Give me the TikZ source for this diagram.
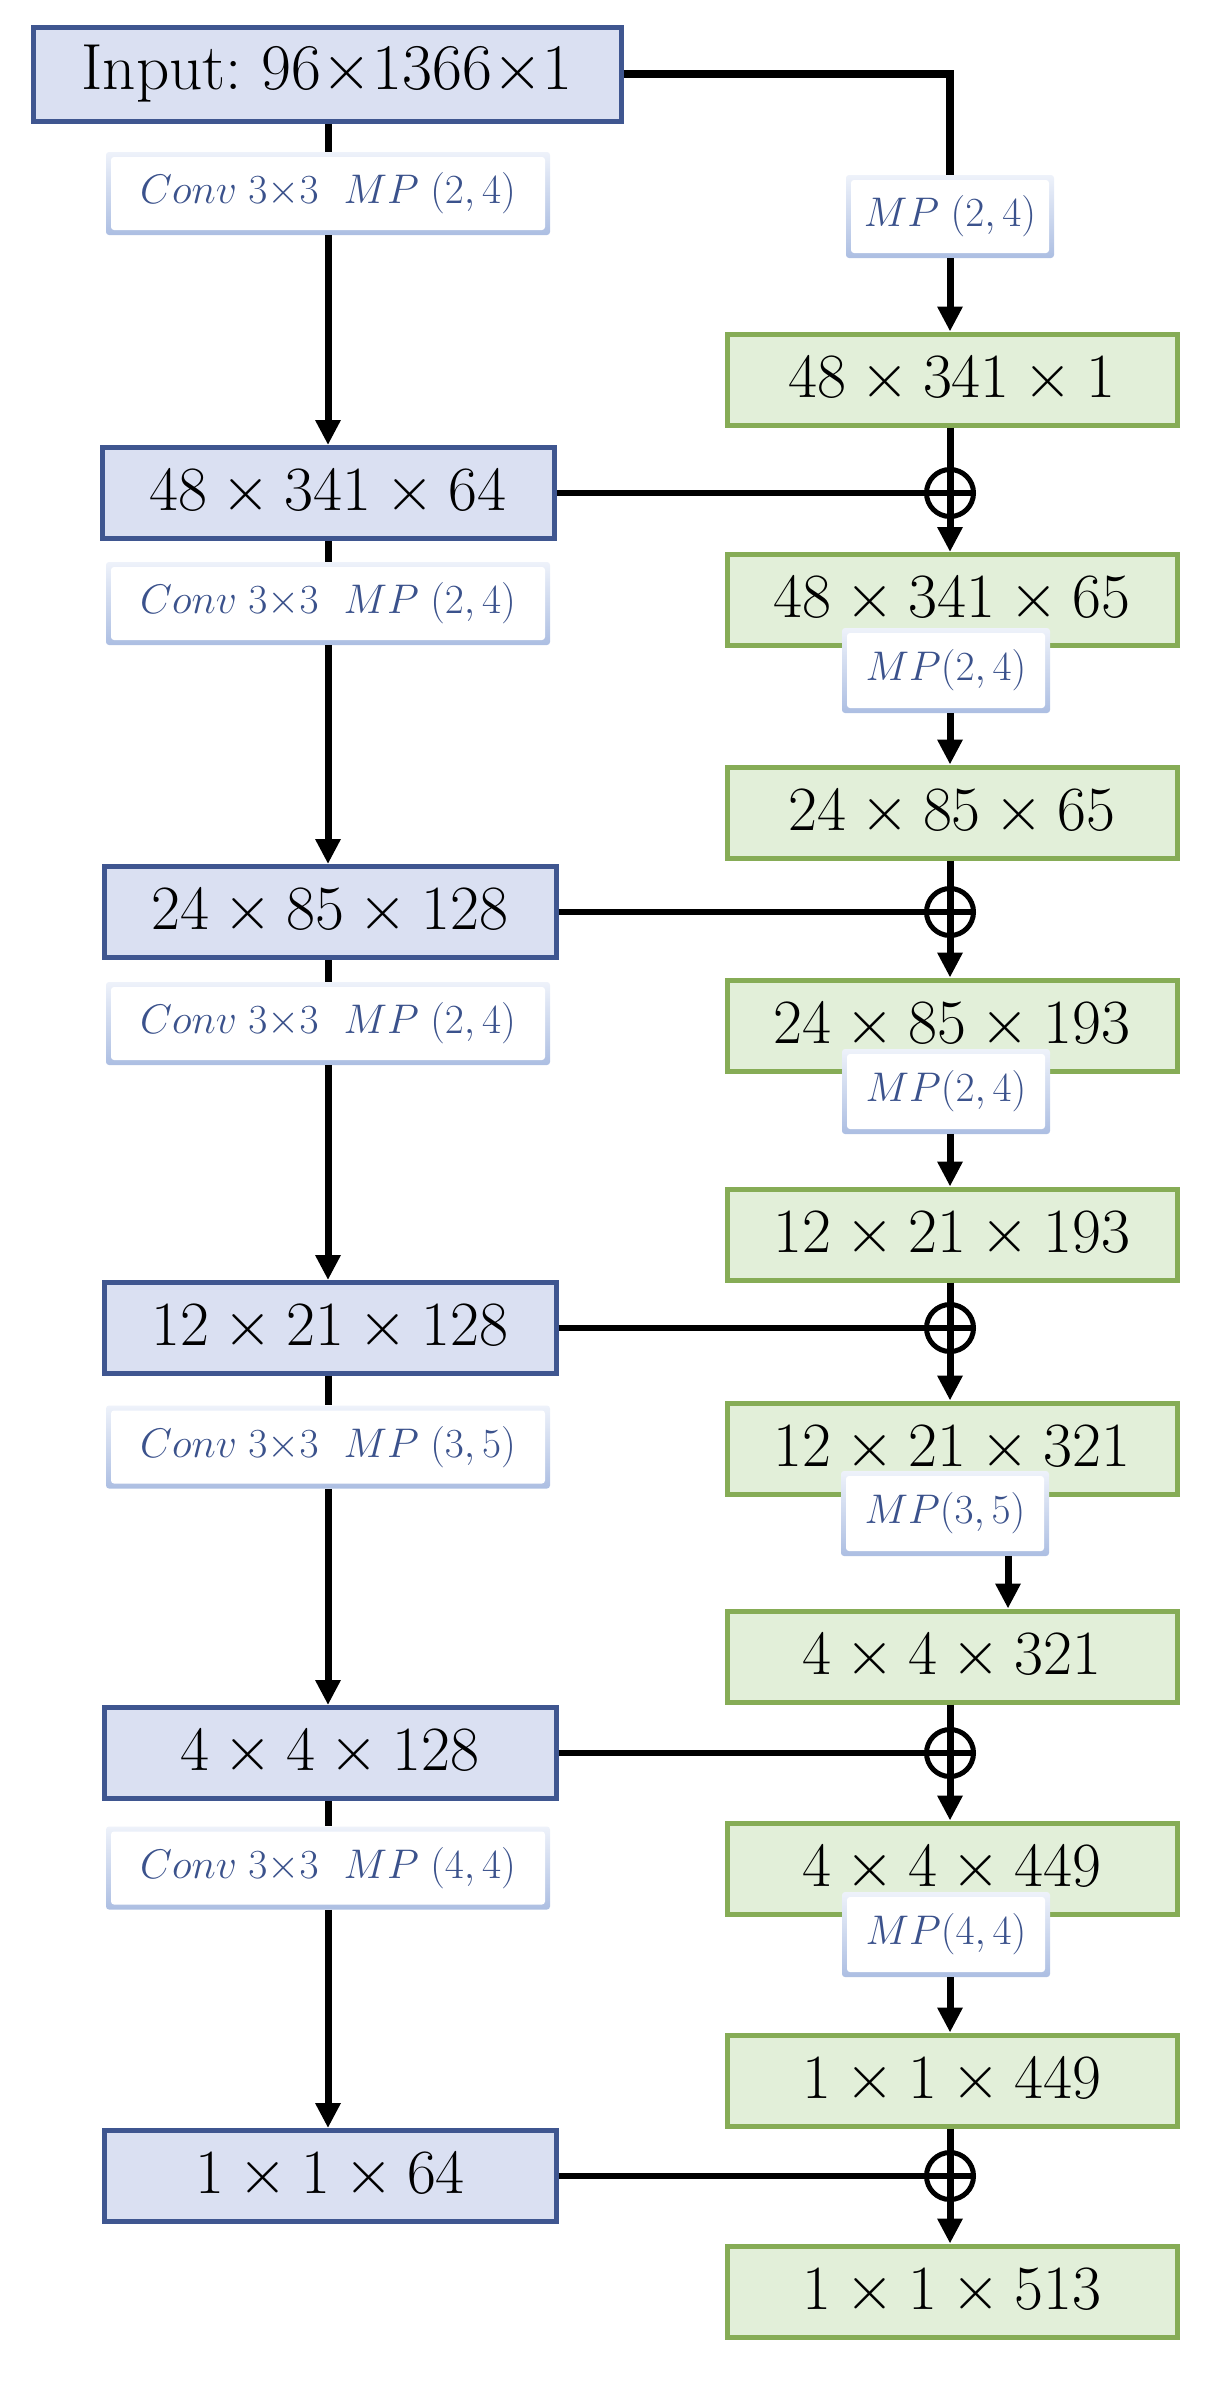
\RequirePackage{fix-cm}
\documentclass[tikz,border=0pt]{standalone}
\usetikzlibrary{arrows.meta,calc}

\definecolor{bluefill}{RGB}{218,224,242}
\definecolor{blueedge}{RGB}{63,86,144}
\definecolor{greenfill}{RGB}{226,239,217}
\definecolor{greenedge}{RGB}{134,172,86}
\definecolor{lbltext}{RGB}{59,82,140}
\definecolor{lbltop}{RGB}{238,242,250}
\definecolor{lblbot}{RGB}{172,190,226}

\tikzset{
  blk/.style={rectangle, line width=2.5pt, minimum height=45.5pt, inner sep=0pt,
    font=\fontsize{31.5}{37}\selectfont},
  bluebox/.style={blk, draw=blueedge, fill=bluefill, minimum width=226pt},
  greenbox/.style={blk, draw=greenedge, fill=greenfill, minimum width=225pt},
  lbl/.style={rectangle, rounded corners=1.5pt, inner sep=0pt,
    top color=lbltop, bottom color=lblbot, text=lbltext,
    font=\fontsize{20.7}{25}\selectfont, minimum height=41.5pt,
    path picture={\fill[white]
      ([xshift=2.5pt,yshift=2.5pt]path picture bounding box.south west) rectangle
      ([xshift=-2.5pt,yshift=-2.5pt]path picture bounding box.north east);}},
  convlbl/.style={lbl, minimum width=222pt},
  mplbl/.style={lbl, minimum width=104pt, minimum height=42.5pt},
  plus/.style={circle, draw, line width=2.5pt, minimum size=23.5pt, inner sep=0pt},
  link/.style={line width=3.5pt},
  skip/.style={line width=2.8pt},
  arr/.style={link, -{Triangle[length=12.5pt,width=12pt]}},
}
\newcommand\convtext[1]{$Conv\;3{\times}3\hspace{0.6em}MP\;(#1)$}

\begin{document}
\begin{tikzpicture}[x=0.5pt,y=-0.5pt]
  \path[use as bounding box] (0,0) rectangle (1215,2382);

  % left branch: convolution blocks
  \node[bluebox, minimum width=294pt, minimum height=47pt,
        font=\fontsize{32.6}{38}\selectfont] (inp) at (327,74)
    {Input:\ 96$\times$1366$\times$1};
  \node[convlbl] (c1) at (328,193.5) {\convtext{2,4}};
  \node[bluebox] (b1) at (328,493) {$48\times341\times64$};
  \node[convlbl] (c2) at (328,603.5) {\convtext{2,4}};
  \node[bluebox] (b2) at (330,912) {$24\times85\times128$};
  \node[convlbl] (c3) at (328,1023.5) {\convtext{2,4}};
  \node[bluebox] (b3) at (330,1328) {$12\times21\times128$};
  \node[convlbl] (c4) at (328,1447) {\convtext{3,5}};
  \node[bluebox] (b4) at (330,1753) {$4\times4\times128$};
  \node[convlbl] (c5) at (328,1868) {\convtext{4,4}};
  \node[bluebox] (b5) at (330,2176) {$1\times1\times64$};

  % right branch: pooled and concatenated features
  \node[mplbl, minimum height=41.5pt] (m0) at (950,216.5) {$MP\;(2,4)$};
  \node[greenbox] (g1) at (952,379.5) {$48\times341\times1$};
  \node[plus] (p1) at (950,493) {};
  \node[greenbox] (g2) at (952,600) {$48\times341\times65$};
  \node[mplbl] (m1) at (946,670.5) {$MP(2,4)$};
  \node[greenbox] (g3) at (952,812.5) {$24\times85\times65$};
  \node[plus] (p2) at (950,912) {};
  \node[greenbox] (g4) at (952,1025.5) {$24\times85\times193$};
  \node[mplbl] (m2) at (946,1091.5) {$MP(2,4)$};
  \node[greenbox] (g5) at (952,1234.5) {$12\times21\times193$};
  \node[plus] (p3) at (950,1328) {};
  \node[greenbox] (g6) at (952,1448.5) {$12\times21\times321$};
  \node[mplbl] (m3) at (945,1513.5) {$MP(3,5)$};
  \node[greenbox] (g7) at (952,1656.5) {$4\times4\times321$};
  \node[plus] (p4) at (950,1753) {};
  \node[greenbox] (g8) at (952,1868.5) {$4\times4\times449$};
  \node[mplbl] (m4) at (946,1934.5) {$MP(4,4)$};
  \node[greenbox] (g9) at (952,2080.5) {$1\times1\times449$};
  \node[plus] (p5) at (950,2176) {};
  \node[greenbox] (g10) at (952,2291.5) {$1\times1\times513$};
  \coordinate (q3) at (1008,1580);

  % left connectors
  \draw[link] (inp.south -| c1) -- (c1.north);
  \draw[arr] (c1.south) -- (b1.north);
  \draw[link] (b1.south -| c2) -- (c2.north);
  \draw[arr] (c2.south) -- (b2.north -| c2);
  \draw[link] (b2.south -| c3) -- (c3.north);
  \draw[arr] (c3.south) -- (b3.north -| c3);
  \draw[link] (b3.south -| c4) -- (c4.north);
  \draw[arr] (c4.south) -- (b4.north -| c4);
  \draw[link] (b4.south -| c5) -- (c5.north);
  \draw[arr] (c5.south) -- (b5.north -| c5);

  % input to the right branch
  \draw[line width=4pt] (inp.east) -| (m0.north);
  \draw[arr] (m0.south) -- (g1.north -| m0);

  % skip connections into the summing junctions
  \draw[skip] (b1.east) -- (p1.east);
  \draw[skip] (b2.east) -- (p2.east);
  \draw[skip] (b3.east) -- (p3.east);
  \draw[skip] (b4.east) -- (p4.east);
  \draw[skip] (b5.east) -- (p5.east);

  % right connectors
  \draw[arr] (g1.south -| p1) -- (g2.north -| p1);
  \draw[arr] (m1.south -| p1) -- (g3.north -| p1);
  \draw[arr] (g3.south -| p2) -- (g4.north -| p2);
  \draw[arr] (m2.south -| p2) -- (g5.north -| p2);
  \draw[arr] (g5.south -| p3) -- (g6.north -| p3);
  \draw[arr] (m3.south -| q3) -- (g7.north -| q3);
  \draw[arr] (g7.south -| p4) -- (g8.north -| p4);
  \draw[arr] (m4.south -| p4) -- (g9.north -| p4);
  \draw[arr] (g9.south -| p5) -- (g10.north -| p5);
\end{tikzpicture}
\end{document}
